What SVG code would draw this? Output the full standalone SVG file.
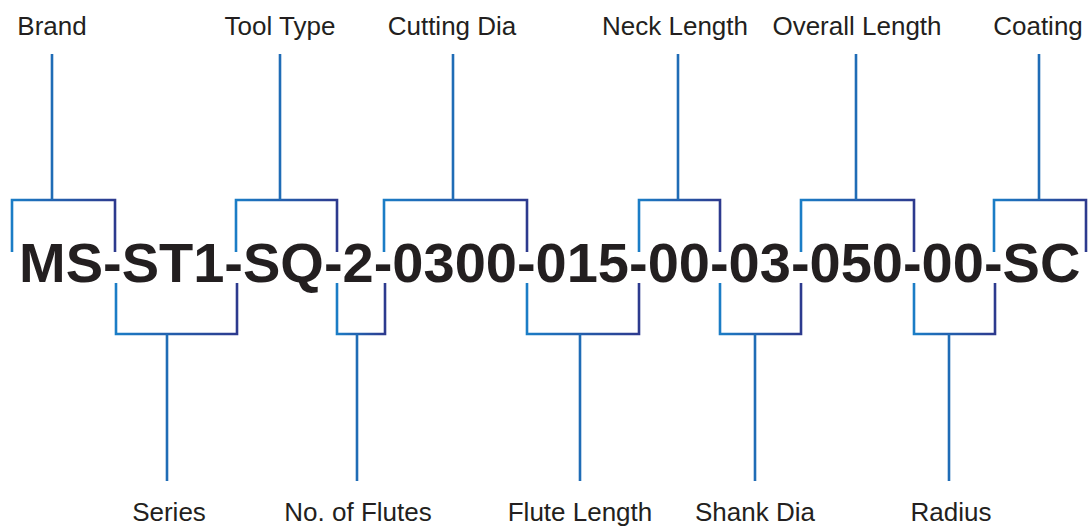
<svg xmlns="http://www.w3.org/2000/svg" width="1091" height="528" viewBox="0 0 1091 528">
<defs>
<linearGradient id="g" x1="0" y1="0" x2="1" y2="0">
<stop offset="0" stop-color="#1b7dc6"/>
<stop offset="1" stop-color="#2d3a8e"/>
</linearGradient>
</defs>
<style>
.b{fill:none;stroke:url(#g);stroke-width:2.6}
.s{fill:none;stroke:#1f6cb6;stroke-width:2.6}
.l{font-family:"Liberation Sans",Arial,sans-serif;font-size:26px;fill:#231f20;text-anchor:middle}
.code{font-family:"Liberation Sans",Arial,sans-serif;font-size:56px;font-weight:bold;fill:#231f20}
</style>
<rect width="1091" height="528" fill="#ffffff"/>
<g id="connectors">
<path class="b" d="M12,252V200H115V252"/>
<path class="b" d="M236,252V200H337V252"/>
<path class="b" d="M384,252V200H527V252"/>
<path class="b" d="M639,252V200H720V252"/>
<path class="b" d="M801,252V200H914V252"/>
<path class="b" d="M994,252V200H1086V252"/>
<path class="b" d="M116,283V334H237V283"/>
<path class="b" d="M337,283V334H385V283"/>
<path class="b" d="M527,283V334H639V283"/>
<path class="b" d="M720,283V334H801V283"/>
<path class="b" d="M914,283V334H995V283"/>
<path class="s" d="M52,54V200M280,54V200M453,54V200M678,54V200M856,54V200M1039,54V200"/>
<path class="s" d="M167,334V481M357,334V481M580,334V481M755,334V481M949,334V481"/>
</g>
<g id="code"><text class="code" x="19" y="282">MS-ST1-SQ-2-0300-015-00-03-050-00-SC</text></g>
<g id="brand"><text class="l" x="52" y="35">Brand</text></g>
<g id="tooltype"><text class="l" x="280" y="35">Tool Type</text></g>
<g id="cuttingdia"><text class="l" x="452" y="35">Cutting Dia</text></g>
<g id="necklength"><text class="l" x="675" y="35">Neck Length</text></g>
<g id="overalllength"><text class="l" x="857" y="35">Overall Length</text></g>
<g id="coating"><text class="l" x="1038" y="35">Coating</text></g>
<g id="series"><text class="l" x="169" y="521">Series</text></g>
<g id="flutes"><text class="l" x="358" y="521">No. of Flutes</text></g>
<g id="flutelength"><text class="l" x="580" y="521">Flute Length</text></g>
<g id="shankdia"><text class="l" x="755" y="521">Shank Dia</text></g>
<g id="radius"><text class="l" x="951" y="521">Radius</text></g>
</svg>
